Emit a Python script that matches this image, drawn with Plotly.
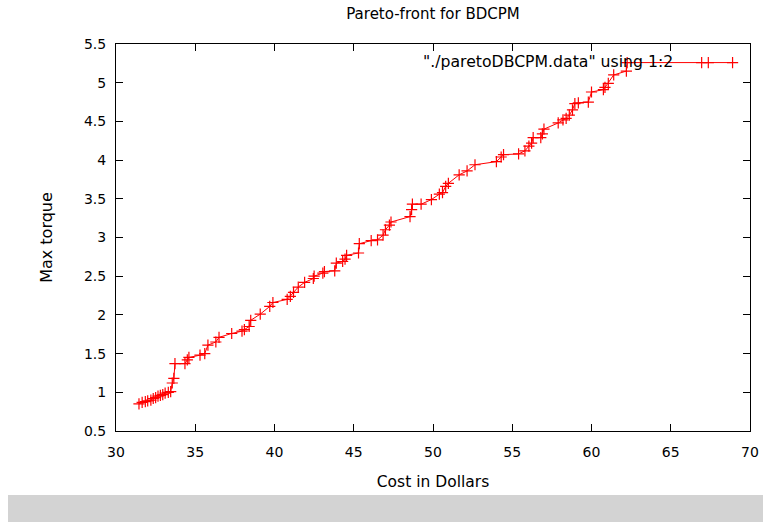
import plotly.graph_objects as go

cost = [31.45, 31.65, 31.85, 32.0, 32.2, 32.35, 32.5, 32.65, 32.8, 32.95,
        33.1, 33.3, 33.45, 33.55, 33.65, 33.72, 34.35, 34.5, 34.6, 35.3,
        35.6, 35.8, 36.3, 36.5, 37.3, 37.95, 38.1, 38.4, 38.5, 39.1,
        39.7, 39.9, 40.8, 41.0, 41.2, 41.5, 41.9, 42.45, 42.5, 43.05,
        43.15, 43.8, 43.9, 44.3, 44.45, 44.55, 45.3, 45.35, 46.1, 46.5,
        46.85, 47.0, 47.25, 47.35, 48.55, 48.65, 48.7, 49.25, 49.9, 50.4,
        50.6, 50.8, 50.97, 51.65, 52.15, 52.65, 54.0, 54.3, 54.45, 55.4,
        55.8, 56.05, 56.22, 56.32, 56.8, 56.9, 57.0, 57.9, 58.2, 58.4,
        58.6, 58.8, 58.95, 59.17, 59.8, 60.0, 60.75, 60.85, 61.06, 61.4,
        62.2, 62.25, 66.95, 67.37, 68.9]
torque = [0.85, 0.87, 0.88, 0.89, 0.9, 0.92, 0.93, 0.95, 0.96, 0.97,
          0.99, 1.0, 1.01, 1.12, 1.18, 1.37, 1.37, 1.42, 1.45, 1.48,
          1.5, 1.61, 1.65, 1.71, 1.76, 1.79, 1.81, 1.85, 1.93, 2.01,
          2.11, 2.16, 2.2, 2.24, 2.29, 2.36, 2.42, 2.47, 2.5, 2.54,
          2.56, 2.57, 2.67, 2.69, 2.72, 2.77, 2.80, 2.92, 2.96, 2.97,
          3.03, 3.10, 3.16, 3.20, 3.27, 3.36, 3.43, 3.43, 3.49, 3.56,
          3.58, 3.66, 3.70, 3.81, 3.86, 3.94, 3.98, 4.04, 4.07, 4.08,
          4.12, 4.18, 4.22, 4.29, 4.29, 4.34, 4.40, 4.48, 4.52, 4.54,
          4.58, 4.65, 4.73, 4.74, 4.75, 4.88, 4.91, 4.94, 4.99, 5.10,
          5.15, 5.26, 5.26, 5.26, 5.26]

x_ticks = [30, 35, 40, 45, 50, 55, 60, 65, 70]
y_ticks = [0.5, 1, 1.5, 2, 2.5, 3, 3.5, 4, 4.5, 5, 5.5]
y_tick_text = ["0.5", "1", "1.5", "2", "2.5", "3", "3.5", "4", "4.5", "5", "5.5"]

FONT = "DejaVu Sans"

fig = go.Figure()
fig.add_trace(go.Scatter(
    x=cost, y=torque, mode="lines+markers",
    line=dict(color="#ff0000", width=1),
    marker=dict(symbol="cross-thin", size=8, line=dict(color="#ff0000", width=1.2)),
    showlegend=False,
))

axis_common = dict(
    showgrid=False, zeroline=False, showline=True, linecolor="black", linewidth=1,
    mirror="allticks", ticks="inside", ticklen=7, tickcolor="black", tickwidth=1,
    tickfont=dict(family=FONT, size=14, color="black"), automargin=False,
)

L, R, T, B = 116, 13, 44, 91
PW = 763 - L - R  # plot width in px
PH = 522 - T - B  # plot height in px

fig.update_layout(
    width=763, height=522,
    margin=dict(l=L, r=R, t=T, b=B, autoexpand=False),
    paper_bgcolor="white", plot_bgcolor="white",
    font=dict(family=FONT, color="black"),
    title=dict(text="Pareto-front for BDCPM", x=0.5, xanchor="center",
               y=1 - 14 / 522, yanchor="middle", xref="paper",
               font=dict(family=FONT, size=15, color="black"), automargin=False),
    xaxis=dict(range=[30, 70], tickvals=x_ticks, ticklabelstandoff=8, **axis_common,
               title=dict(text="Cost in Dollars", standoff=17,
                          font=dict(family=FONT, size=15.5, color="black"))),
    yaxis=dict(range=[0.5, 5.5], tickvals=y_ticks, ticktext=y_tick_text,
               ticklabelstandoff=6, **axis_common,
               title=dict(text="Max torque", standoff=27,
                          font=dict(family=FONT, size=16, color="black"))),
    shapes=[dict(type="rect", xref="paper", yref="paper",
                 x0=(8 - L) / PW, x1=(763 - L) / PW,
                 y0=(431 - 522) / PH, y1=(431 - 495) / PH,
                 fillcolor="#d3d3d3", line=dict(width=0), layer="below")],
    annotations=[dict(text="\"./paretoDBCPM.data\" using 1:2", xref="paper", yref="paper",
                      x=(675 - L) / PW, y=(431 - 61) / PH, xanchor="right", yanchor="middle",
                      showarrow=False, font=dict(family=FONT, size=15.7, color="black"))],
)

fig.write_html("out.html")
